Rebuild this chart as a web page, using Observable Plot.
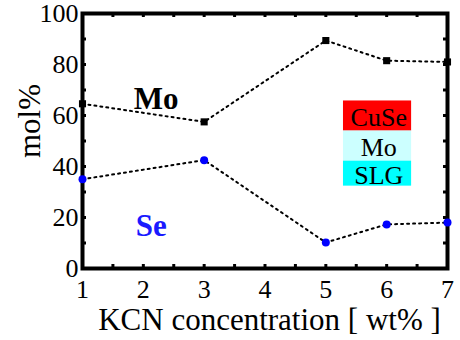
<!DOCTYPE html>
<html>
<head>
<meta charset="utf-8">
<script src="https://cdn.jsdelivr.net/npm/d3@7"></script>
<script src="https://cdn.jsdelivr.net/npm/@observablehq/plot@0.6"></script>
<style>
  html, body { margin: 0; padding: 0; background: #fff; }
  #chart { width: 460px; height: 340px; }
  #chart svg, #chart svg text { font-family: "Liberation Serif", "Times New Roman", serif !important; }
</style>
</head>
<body>
<div id="chart"></div>
<script>
// ---- data ----
const kcn = [1, 3, 5, 6, 7];
const moValues = [64.6, 57.5, 89.4, 81.5, 81.0];
const seValues = [35.0, 42.5, 10.2, 17.3, 18.0];
const xTickLabels = [1, 2, 3, 4, 5, 6, 7];
const yTickLabels = [0, 20, 40, 60, 80, 100];
const xMinorTicks = [1, 1.5, 2, 2.5, 3, 3.5, 4, 4.5, 5, 5.5, 6, 6.5, 7];
const yMinorTicks = [0, 10, 20, 30, 40, 50, 60, 70, 80, 90, 100];
const legendLabels = ["CuSe", "Mo", "SLG"];
const legendColors = ["#ff0000", "#ccffff", "#00ffff"];
const xLabel = "KCN concentration [ wt% ]";
const yLabel = "mol%";

const mo = kcn.map((x, i) => ({x, v: moValues[i]}));
const se = kcn.map((x, i) => ({x, v: seValues[i]}));

// legend box edges (in data units)
const legendTops = [65.7, 53.9, 42.1];
const legendBottoms = [53.9, 42.1, 32.3];
const legend = legendLabels.map((label, i) => ({
  label, color: legendColors[i], top: legendTops[i], bottom: legendBottoms[i]
}));

const serif = "Liberation Serif";

const chart = Plot.plot({
  width: 460,
  height: 340,
  marginLeft: 82,
  marginRight: 13,
  marginTop: 13,
  marginBottom: 72,
  style: {fontSize: "26px", background: "#fff", overflow: "visible"},
  x: {domain: [1, 7]},
  y: {domain: [0, 100]},
  marks: [
    Plot.axisX(xTickLabels, {tickSize: 0, tickPadding: 11, label: null, fontSize: 26, fontFamily: serif}),
    Plot.axisY(yTickLabels, {tickSize: 0, tickPadding: 4, label: null, fontSize: 26, fontFamily: serif}),
    // legend boxes
    Plot.rect(legend, {x1: 5.29, x2: 6.41, y1: "bottom", y2: "top", fill: "color"}),
    Plot.text(legend, {x: 5.87, y: d => (d.top + d.bottom) / 2, text: "label", fontSize: 26, fontFamily: serif, dy: 2, fill: "black"}),
    // minor ticks inward
    Plot.tickX(xMinorTicks, {x: d => d, insetTop: 251, strokeWidth: 3, stroke: "black"}),
    Plot.tickX(xMinorTicks, {x: d => d, insetBottom: 251, strokeWidth: 3, stroke: "black"}),
    Plot.tickY(yMinorTicks, {y: d => d, insetRight: 361, strokeWidth: 3, stroke: "black"}),
    Plot.tickY(yMinorTicks, {y: d => d, insetLeft: 361, strokeWidth: 3, stroke: "black"}),
    Plot.frame({stroke: "black", strokeWidth: 4}),
    // lines
    Plot.line(mo, {x: "x", y: "v", stroke: "black", strokeWidth: 2, strokeDasharray: "2,4"}),
    Plot.line(se, {x: "x", y: "v", stroke: "black", strokeWidth: 2, strokeDasharray: "2,4"}),
    Plot.dot(mo, {x: "x", y: "v", symbol: "square", r: 4, fill: "black"}),
    Plot.dot(se, {x: "x", y: "v", symbol: "circle", r: 4, fill: "#0000ff"}),
    // annotations
    Plot.text(["Mo"], {x: 2.21, y: 66.5, text: d => d, fontSize: 31, fontWeight: "bold", fontFamily: serif, fill: "black"}),
    Plot.text(["Se"], {x: 2.13, y: 16.7, text: d => d, fontSize: 31, fontWeight: "bold", fontFamily: serif, fill: "#1a1aff"}),
    // axis labels
    Plot.text([xLabel], {frameAnchor: "bottom", text: d => d, dy: 52, dx: 4.5, textAnchor: "middle", lineAnchor: "middle", fontSize: 31, fontFamily: serif, fill: "black"}),
    Plot.text([yLabel], {frameAnchor: "left", text: d => d, dx: -52, dy: -20, rotate: -90, textAnchor: "middle", lineAnchor: "middle", fontSize: 31, fontFamily: serif, fill: "black"})
  ]
});
document.getElementById("chart").appendChild(chart);
</script>
</body>
</html>
